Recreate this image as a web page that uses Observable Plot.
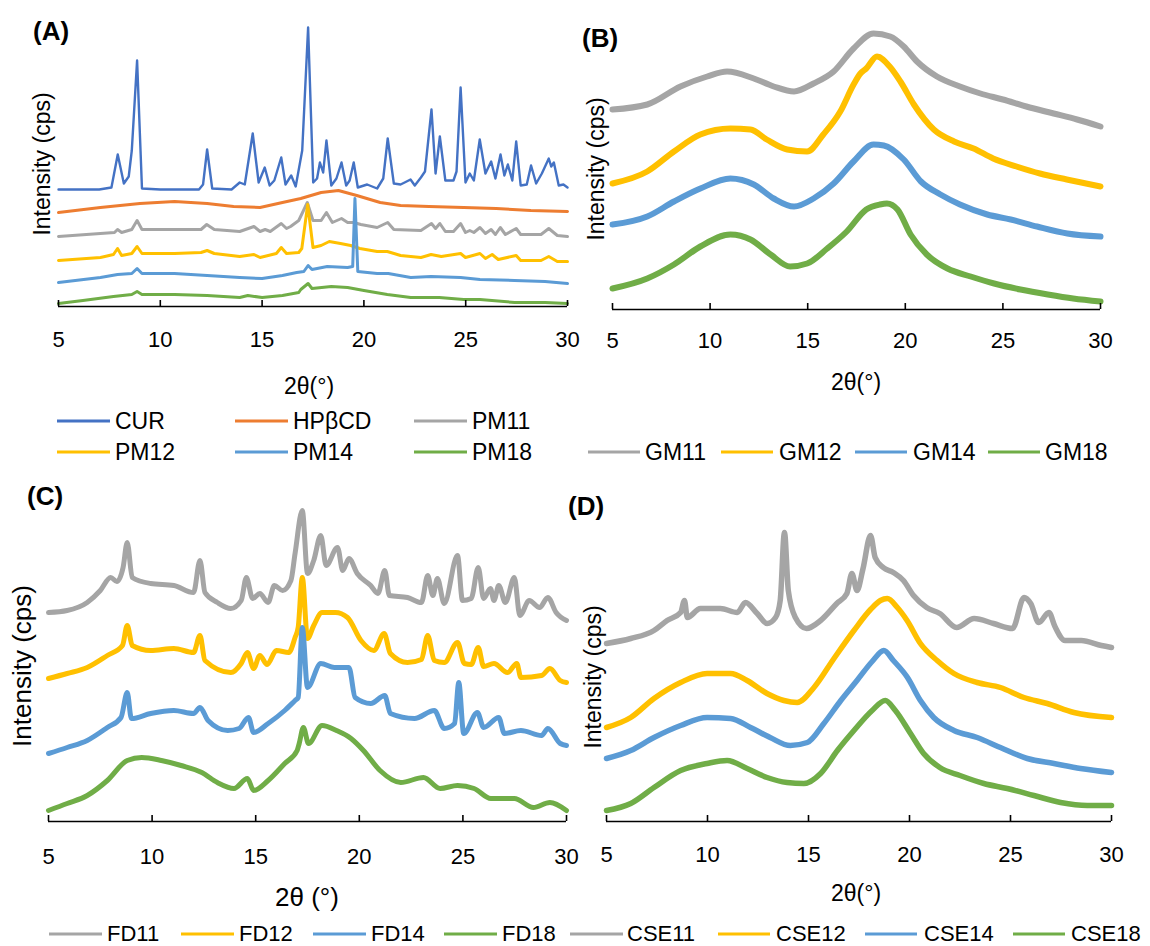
<!DOCTYPE html>
<html><head><meta charset="utf-8">
<script src="https://cdn.jsdelivr.net/npm/d3@7"></script>
<script src="https://cdn.jsdelivr.net/npm/@observablehq/plot@0.6"></script>
<style>
body{margin:0;background:#fff;}
#root{position:relative;width:1150px;height:946px;overflow:hidden;font-family:"Liberation Sans",Arial,sans-serif;color:#000;background:#fff;}
.abs{position:absolute;white-space:nowrap;line-height:1;}
.title{font-weight:bold;font-size:26px;transform:translateY(-50%);}
.ytitle{transform:translate(-50%,-50%) rotate(-90deg);}
.ctr{transform:translate(-50%,-50%);}
.lt{transform:translateY(-50%);font-size:23px;}
.leg-line{position:absolute;height:0;border-top:3px solid;transform:translateY(-50%);}
.panel{position:absolute;}
.panel svg{overflow:visible;max-width:none;}
</style></head><body><div id="root"></div>
<script>
// ---------- data: 2θ (°) vs intensity (arbitrary units) ----------
const xTicks = [5, 10, 15, 20, 25, 30];

// Panel A
const namesA = ["CUR", "HPβCD", "PM11", "PM12", "PM14", "PM18"];
const CUR = [[5,117],[6,117],[7,117],[7.6,119],[7.91,152],[8.21,123],[8.45,130],[8.6,156],[8.86,246],[9.1,118],[10,117],[11.9,117],[12.1,122],[12.3,157],[12.55,118],[13.5,117],[13.9,124],[14.15,122],[14.54,173],[14.83,124],[15.13,139],[15.37,121],[15.6,126],[15.94,149],[16.15,122],[16.43,131],[16.65,120],[16.97,156],[17.26,279],[17.51,124],[17.7,128],[17.84,144],[18.0,134],[18.16,166],[18.4,121],[18.65,128],[18.9,144],[19.13,121],[19.3,126],[19.5,144],[19.7,119],[20.16,122],[20.65,118],[20.95,128],[21.17,168],[21.47,123],[21.8,122],[22.0,124],[22.29,127],[22.5,121],[22.8,129],[23.0,135],[23.32,197],[23.52,133],[23.73,170],[24.0,126],[24.4,126],[24.55,135],[24.75,219],[24.99,124],[25.2,133],[25.4,126],[25.69,167],[25.97,133],[26.25,145],[26.46,128],[26.71,152],[26.9,131],[27.07,142],[27.29,126],[27.48,165],[27.7,121],[28.0,122],[28.21,141],[28.46,123],[28.74,133],[29.08,148],[29.2,140],[29.33,144],[29.57,121],[29.8,122],[30,119]];
const HPBCD = [[5,94],[7.06,99],[9.0,103],[10.7,105],[12.3,103],[13.6,100],[14.9,99],[16.0,104],[16.9,108],[17.9,114],[18.75,116],[19.65,111],[20.8,104],[21.8,101],[23.2,100],[24.9,99],[26.5,98],[28.2,96],[30,95]];
const PM11 = [[5,70],[7.06,73],[7.75,74],[7.9,77],[8.1,74],[8.6,77],[8.86,86],[9.1,77],[10.7,77],[12.0,77],[12.28,82],[12.65,77],[13.9,75],[14.6,80],[14.9,75],[15.15,77],[15.4,75],[15.94,83],[16.2,78],[16.4,80],[16.8,86],[17.22,104],[17.5,86],[17.9,86],[18.16,94],[18.45,84],[18.9,88],[19.2,84],[19.5,84],[19.85,82],[20.65,79],[21.17,84],[21.47,77],[22.8,76],[23.32,83],[23.52,78],[23.73,83],[24.0,75],[24.4,75],[24.75,83],[24.99,74],[25.2,76],[25.4,74],[25.7,79],[25.97,73],[26.25,77],[26.46,72],[26.7,79],[26.95,72],[27.48,78],[27.7,72],[28.7,72],[29.08,78],[29.5,71],[30,70]];
const PM12 = [[5,46],[7.06,49],[7.7,52],[7.9,58],[8.1,51],[8.6,53],[8.86,60],[9.1,53],[10.7,53],[12.0,54],[12.3,56],[12.65,53],[13.9,50],[14.6,52],[14.9,49],[15.7,53],[15.94,59],[16.2,53],[16.8,54],[16.95,58],[17.24,102],[17.5,59],[17.9,61],[18.3,65],[18.85,63],[19.35,61],[19.8,58],[20.65,55],[21.15,55],[21.8,51],[22.8,49],[23.3,52],[23.8,50],[24.75,53],[24.99,49],[25.7,53],[25.97,48],[26.3,52],[26.6,47],[27.48,51],[27.7,46],[28.7,46],[29.08,50],[29.5,45],[30,45]];
const PM14 = [[5,24],[7.06,29],[7.9,32],[8.6,33],[8.86,38],[9.1,33],[10.7,33],[12.3,31],[13.9,29],[15.0,28],[16.0,31],[16.7,34],[17.05,35],[17.26,41],[17.45,37],[18.2,40],[19.2,39],[19.45,40],[19.56,108],[19.7,35],[20.65,33],[21.2,33],[22.3,29],[23.3,30],[24.75,29],[25.7,27],[27.4,26],[28.9,25],[30,23]];
const PM18 = [[5,3],[6.2,6],[7.7,10],[8.6,12],[8.86,15],[9.1,12],[10.7,12],[12.3,11],[13.9,9],[14.3,11],[15.0,9],[16.0,11],[16.8,14],[16.9,17],[17.26,23],[17.45,18],[18.4,20],[19.2,19],[20.0,16],[21.15,12],[22.3,9],[23.7,9],[24.9,7],[25.7,7],[27.4,4],[28.9,4],[30,3]];

// Panel B
const namesB = ["GM11", "GM12", "GM14", "GM18"];
const GM11 = [[5,200],[6.78,205],[8.48,223],[9.85,233],[10.87,238],[12.24,231],[13.26,223],[14.3,218],[15.3,226],[16.33,238],[17.35,261],[18.37,276],[19.23,273],[19.92,263],[20.6,248],[21.62,233],[22.8,223],[23.85,216],[25.0,210],[26.2,203],[27.6,196],[28.8,190],[30,183]];
const GM12 = [[5,126],[6.78,138],[8.15,158],[9.5,175],[11.04,181],[12.07,180],[12.9,170],[13.95,160],[14.97,158],[15.8,175],[16.67,198],[17.35,225],[17.7,236],[18.0,241],[18.55,253],[19.2,243],[19.75,228],[20.44,205],[21.46,180],[22.5,168],[23.5,161],[24.5,151],[25.7,143],[26.9,136],[28.27,130],[30,123]];
const GM14 = [[5,85],[6.78,93],[8.15,108],[9.5,121],[11.04,131],[12.24,125],[13.26,111],[14.3,103],[15.3,111],[16.33,126],[17.35,148],[18.37,165],[18.9,164],[19.92,150],[20.8,128],[21.8,115],[22.8,105],[24.2,95],[25.4,90],[26.75,83],[28.3,76],[30,73]];
const GM18 = [[5,21],[6.78,31],[8.15,45],[9.5,63],[11.04,75],[12.07,70],[13.1,55],[14.1,43],[14.97,46],[16.0,61],[17.0,78],[18.0,100],[18.7,105],[19.06,106],[19.6,100],[20.27,75],[21.1,55],[22.16,41],[23.35,33],[24.55,26],[25.9,20],[27.3,15],[28.6,11],[30,8]];

// Panel C
const namesC = ["FD11", "FD12", "FD14", "FD18"];
const FD11 = [[5,209],[5.9,211],[6.87,219],[7.5,231],[8.0,244],[8.3,240],[8.6,254],[8.8,279],[9.04,244],[9.93,238],[11.05,236],[12.0,229],[12.31,261],[12.55,229],[13.15,219],[13.8,213],[14.3,221],[14.55,244],[14.85,223],[15.2,228],[15.6,219],[15.9,236],[16.3,231],[16.7,241],[16.9,268],[17.25,311],[17.5,248],[17.8,261],[18.14,286],[18.4,256],[18.95,274],[19.2,251],[19.5,263],[19.9,248],[20.55,236],[20.9,228],[21.23,251],[21.45,226],[22.33,224],[23.0,219],[23.3,246],[23.55,226],[23.77,243],[24.1,218],[24.74,266],[24.98,221],[25.4,223],[25.74,254],[26.0,223],[26.33,233],[26.5,221],[26.73,236],[27.05,219],[27.48,244],[27.75,206],[28.2,221],[28.7,214],[29.1,224],[29.5,209],[30,201]];
const FD12 = [[5,143],[5.9,148],[6.87,154],[7.84,166],[8.57,176],[8.8,196],[9.04,176],[9.93,171],[11.05,173],[12.0,169],[12.31,186],[12.55,161],[13.8,149],[14.3,158],[14.6,169],[14.9,153],[15.2,166],[15.55,157],[16.0,171],[16.6,169],[16.9,184],[17.05,194],[17.25,244],[17.5,183],[17.8,196],[18.2,209],[18.85,209],[19.43,204],[20.08,181],[20.7,171],[21.2,188],[21.5,168],[22.33,159],[23.0,162],[23.3,186],[23.62,161],[24.1,159],[24.74,179],[25.07,158],[25.4,157],[25.74,174],[26.0,155],[26.5,158],[27.15,149],[27.6,158],[27.8,144],[28.8,146],[29.2,153],[29.7,141],[30,139]];
const FD14 = [[5,68],[5.9,74],[6.87,81],[7.84,94],[8.5,104],[8.8,129],[9.0,103],[9.93,108],[11.05,111],[12.0,108],[12.31,114],[12.7,101],[13.65,91],[14.2,93],[14.65,104],[14.9,89],[15.6,98],[16.4,111],[16.9,121],[17.05,124],[17.25,194],[17.5,134],[18.14,158],[18.8,154],[19.5,154],[19.8,124],[20.55,118],[21.23,126],[21.5,108],[22.66,103],[23.62,111],[24.1,93],[24.6,98],[24.8,139],[25.04,88],[25.7,109],[26.0,94],[26.73,104],[27.0,88],[27.8,91],[28.8,86],[29.1,93],[29.7,78],[30,76]];
const FD18 = [[5,11],[5.9,18],[6.87,26],[7.84,41],[8.8,61],[9.5,64],[10.45,61],[11.4,56],[12.4,49],[13.15,39],[13.95,33],[14.6,43],[14.9,31],[15.6,41],[16.4,58],[17.0,71],[17.1,78],[17.3,94],[17.55,78],[18.2,96],[18.9,91],[19.6,83],[20.2,71],[21.0,51],[22.0,39],[23.1,44],[23.9,33],[24.74,36],[25.54,33],[26.35,23],[27.48,23],[28.4,14],[29.2,19],[30,11]];

// Panel D
const namesD = ["CSE11", "CSE12", "CSE14", "CSE18"];
const CSE11 = [[5,178],[6.2,183],[7.35,191],[8.0,201],[8.67,209],[8.86,221],[9.0,204],[9.65,213],[10.64,213],[11.47,209],[11.88,219],[12.46,208],[12.95,198],[13.37,204],[13.6,221],[13.81,289],[14.0,231],[14.35,204],[14.9,193],[15.6,201],[16.4,218],[16.9,228],[17.15,248],[17.4,231],[17.7,253],[18.07,286],[18.3,264],[18.7,254],[19.2,249],[19.7,241],[20.2,226],[20.85,214],[21.5,208],[22.33,194],[23.2,203],[24.16,198],[25.1,193],[25.67,224],[26.0,218],[26.4,199],[26.9,209],[27.2,195],[27.7,181],[28.5,181],[29.5,176],[30,174]];
const CSE12 = [[5,94],[6.2,104],[7.35,123],[8.67,139],[9.98,148],[11.14,148],[11.96,141],[12.95,128],[13.78,121],[14.44,119],[15.27,134],[16.26,163],[17.25,191],[18.07,212],[18.56,221],[18.9,223],[19.4,214],[19.88,201],[20.54,178],[21.37,161],[22.2,148],[23.35,139],[24.5,134],[25.67,124],[26.82,118],[28.14,109],[30,104]];
const CSE14 = [[5,63],[6.2,71],[7.35,84],[8.67,96],[9.98,104],[11.14,103],[12.13,94],[13.1,84],[14.1,76],[14.94,79],[15.76,98],[16.6,121],[17.4,141],[18.15,160],[18.73,171],[19.2,161],[19.9,144],[20.54,121],[21.2,104],[22.2,91],[23.35,84],[24.5,74],[25.83,63],[27.15,58],[28.47,53],[30,49]];
const CSE18 = [[5,11],[6.2,18],[7.35,34],[8.67,51],[9.98,58],[10.97,61],[11.96,53],[12.95,44],[13.94,39],[14.77,38],[15.6,48],[16.43,71],[17.25,91],[18.15,111],[18.8,121],[19.3,111],[20.05,88],[20.7,68],[21.5,54],[22.5,46],[23.68,38],[24.84,33],[26.16,26],[27.48,19],[28.8,16],[30,16]];

// ---------- styles ----------
const colorsA = ["#4472C4", "#ED7D31", "#A5A5A5", "#FFC000", "#5B9BD5", "#70AD47"];
const colors4 = ["#A5A5A5", "#FFC000", "#5B9BD5", "#70AD47"];

const root = document.getElementById("root");

function addText(txt, cls, left, top, size, extra) {
  const d = document.createElement("div");
  d.className = "abs " + cls;
  d.textContent = txt;
  d.style.left = left + "px";
  d.style.top = top + "px";
  if (size) d.style.fontSize = size + "px";
  if (extra) Object.assign(d.style, extra);
  root.appendChild(d);
}
function addLegend(name, color, x1, x2, tx, y, size) {
  const l = document.createElement("div");
  l.className = "leg-line";
  l.style.left = x1 + "px";
  l.style.width = (x2 - x1) + "px";
  l.style.top = y + "px";
  l.style.borderTopColor = color;
  root.appendChild(l);
  addText(name, "lt", tx, y, size);
}

function panel(cfg) {
  const marks = cfg.series.map((s, i) => Plot.line(s, {
    x: d => d[0], y: d => d[1], stroke: cfg.colors[i],
    strokeWidth: cfg.sw[i], strokeLinejoin: "round", curve: cfg.curve
  }));
  marks.push(Plot.ruleY([0], {stroke: "#000", strokeWidth: 1.6}));
  marks.push(Plot.ruleX(xTicks, {y1: 0, y2: 6, stroke: "#000", strokeWidth: 1.6}));
  marks.push(Plot.axisX({ticks: xTicks, tickSize: 0, tickPadding: cfg.pad, label: null, fontSize: 22, tickFormat: d => String(d)}));
  const svg = Plot.plot({
    width: cfg.w, height: cfg.h,
    marginLeft: cfg.mL, marginRight: cfg.mR, marginTop: 0, marginBottom: cfg.mB,
    x: {domain: [5, 30]},
    y: {domain: [0, cfg.yMax], axis: null},
    style: {fontFamily: '"Liberation Sans", Arial, sans-serif', color: "#000", background: "transparent", overflow: "visible"},
    marks
  });
  const wrap = document.createElement("div");
  wrap.className = "panel";
  wrap.style.left = cfg.left + "px";
  wrap.style.top = cfg.top + "px";
  wrap.appendChild(svg);
  root.appendChild(wrap);
}

// Panel A
panel({left: 0, top: 0, w: 580, h: 350, mL: 58, mR: 13, mB: 44, yMax: 306, pad: 25, curve: "linear",
  series: [CUR, HPBCD, PM11, PM12, PM14, PM18], colors: colorsA, sw: [2.4, 3, 3, 3, 3, 3]});
// Panel B
panel({left: 570, top: 0, w: 580, h: 350, mL: 42, mR: 50, mB: 41, yMax: 309, pad: 23, curve: "monotone-x",
  series: [GM11, GM12, GM14, GM18], colors: colors4, sw: [6, 6, 6, 6]});
// Panel C
panel({left: 0, top: 470, w: 575, h: 400, mL: 48, mR: 9, mB: 49, yMax: 351, pad: 27, curve: "monotone-x",
  series: [FD11, FD12, FD14, FD18], colors: colors4, sw: [5, 5, 5, 5]});
// Panel D
panel({left: 570, top: 470, w: 580, h: 400, mL: 36, mR: 39, mB: 49, yMax: 351, pad: 25, curve: "monotone-x",
  series: [CSE11, CSE12, CSE14, CSE18], colors: colors4, sw: [5.5, 5.5, 5.5, 5.5]});

// Titles
addText("(A)", "title", 33, 31);
addText("(B)", "title", 582, 38);
addText("(C)", "title", 27, 496);
addText("(D)", "title", 568, 506);

// Axis titles
addText("Intensity (cps)", "ytitle", 42, 164, 23);
addText("Intensity (cps)", "ytitle", 596, 169, 23);
addText("Intensity (cps)", "ytitle", 22, 666, 26);
addText("Intensity (cps)", "ytitle", 593, 677, 23);
addText("2θ(°)", "ctr", 309, 386, 23);
addText("2θ(°)", "ctr", 856, 382, 23);
addText("2θ (°)", "ctr", 307, 897, 26);
addText("2θ(°)", "ctr", 856, 893, 23);

// Legends
const legAx = [[57, 110, 115], [235, 288, 293], [414, 467, 472]];
namesA.forEach((n, i) => {
  const c = legAx[i % 3];
  addLegend(n, colorsA[i], c[0], c[1], c[2], i < 3 ? 421 : 452);
});
const legB = [[588, 640, 645], [721, 773, 779], [855, 907, 913], [988, 1040, 1045]];
namesB.forEach((n, i) => addLegend(n, colors4[i], legB[i][0], legB[i][1], legB[i][2], 452));
const legC = [[49, 102, 107], [181, 234, 239], [313, 366, 371], [444, 497, 502]];
namesC.forEach((n, i) => addLegend(n, colors4[i], legC[i][0], legC[i][1], legC[i][2], 934, 22));
const legD = [[570, 623, 627], [718, 770, 776], [865, 917, 924], [1013, 1065, 1071]];
namesD.forEach((n, i) => addLegend(n, colors4[i], legD[i][0], legD[i][1], legD[i][2], 934, 22));
</script></body></html>
